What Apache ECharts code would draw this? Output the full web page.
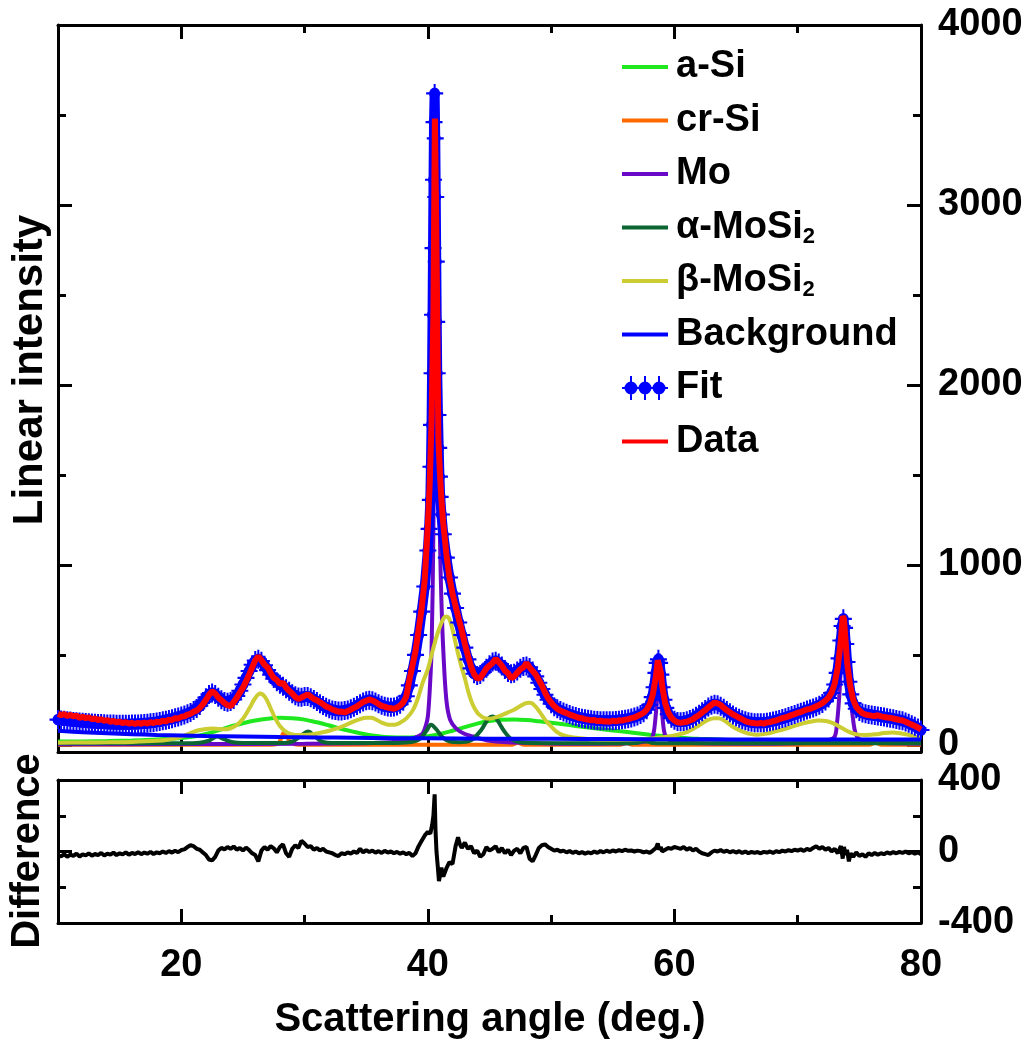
<!DOCTYPE html>
<html><head><meta charset="utf-8">
<script src="https://cdn.jsdelivr.net/npm/echarts@6/dist/echarts.min.js"></script>
<style>html,body{margin:0;padding:0;background:#fff}#c{width:1031px;height:1042px}</style>
</head><body><div id="c"></div>
<script>
// ---------- tick values ----------
const xMajorTicks = [20, 40, 60, 80];
const xMinorTicks = [30, 50, 70];
const yMajorTicks = [0, 1000, 2000, 3000, 4000];
const yMinorTicks = [500, 1500, 2500, 3500];
const diffMajorTicks = [-400, 0, 400];
const diffMinorTicks = [-200, 200];

// ---------- series values [angle, intensity] ----------
const aSi = [[10,18],[12,19],[14,21],[16,24],[18,29],[20,38],[21,46],[22,60],[23,80],[24,102],[25,120],[26,135],[27,145],[28,150],[29,148],[30,140],[31,125],[32,107],[33,88],[34,72],[35,58],[36,48],[37,42],[38,40],[39,42],[40,48],[41,60],[42,78],[43,98],[44,118],[45,132],[46,139],[47,141],[48,138],[49,131],[50,123],[51,114],[52,105],[53,96],[54,88],[55,80],[56,72],[57,64],[58,56],[59,49],[60,42],[61,37],[62,33],[64,28],[66,25],[70,24],[74,25],[77,27],[80,25]];

const crSi = [[10,0],[27,0],[27.8,5],[28.1,35],[28.3,65],[28.5,55],[28.8,20],[29.2,3],[30,0],[46.8,0],[47.3,12],[47.8,0],[55.6,0],[56.1,10],[56.6,0],[75.8,0],[76.3,12],[76.8,0],[80,0]];

const mo = [[10,3],[20,4],[30,6],[35,9],[37,14],[38,22],[38.8,36],[39.3,50],[39.6,65],[39.85,110],[40,157],[40.15,300],[40.3,528],[40.45,1200],[40.55,2200],[40.65,2900],[40.75,2500],[40.85,1700],[41,1080],[41.1,800],[41.25,528],[41.5,250],[41.8,140],[42.3,90],[43,60],[43.7,46],[45,22],[48,10],[52,6],[55,7],[57,12],[58,25],[58.2,40],[58.35,80],[58.5,177],[58.6,260],[58.75,340],[58.9,260],[59,177],[59.15,80],[59.3,46],[59.6,25],[60,15],[62,8],[66,6],[70,9],[71.5,14],[72.5,25],[73,45],[73.2,130],[73.35,250],[73.5,420],[73.65,560],[73.75,580],[73.85,540],[74,420],[74.2,280],[74.4,190],[74.6,90],[74.8,46],[75.2,25],[76,14],[78,8],[80,6]];

const alphaMoSi2 = [[10,8],[20,9],[21.5,12],[22.3,25],[22.9,46],[23.5,30],[24.2,14],[25,10],[28,10],[29,18],[29.7,50],[30.3,74],[30.8,50],[31.4,18],[32.5,10],[37,10],[38.5,14],[39.3,30],[39.9,80],[40.25,111],[40.7,85],[41.2,40],[41.8,18],[42.5,14],[43.5,25],[44.3,80],[44.9,145],[45.25,157],[45.6,140],[46.2,75],[46.8,30],[47.5,14],[49,10],[56,8],[57,12],[57.6,20],[58.1,12],[59,8],[80,8]];

const betaMoSi2 = [[10,12],[12,13],[14,14],[16,16],[18,22],[19,30],[20,45],[20.5,58],[21,72],[21.5,82],[22,88],[22.5,90],[23,88],[23.5,86],[24,92],[24.5,110],[25,145],[25.5,200],[26,260],[26.4,285],[26.8,265],[27.2,210],[27.6,150],[28,105],[28.5,72],[29,58],[29.5,54],[30,55],[30.5,58],[31,63],[31.5,70],[32,78],[32.5,88],[33,100],[33.5,115],[34,130],[34.5,143],[35,150],[35.4,150],[35.8,140],[36.3,122],[36.8,112],[37.3,112],[37.8,125],[38.3,150],[38.8,194],[39.2,260],[39.6,350],[40,420],[40.3,500],[40.7,600],[41,660],[41.3,705],[41.5,713],[41.8,690],[42.1,610],[42.4,520],[42.7,440],[43,370],[43.3,290],[43.6,230],[43.9,190],[44.2,165],[44.6,148],[45,145],[45.5,152],[46,165],[46.5,180],[47,195],[47.5,215],[48,232],[48.3,233],[48.7,215],[49.1,180],[49.5,140],[49.9,110],[50.4,75],[51,52],[51.8,40],[53,32],[54.5,30],[56,30],[57,31],[58,34],[59,42],[60,52],[61,70],[61.8,100],[62.5,130],[63.2,148],[63.6,148],[64.2,128],[64.7,102],[65.3,80],[66,62],[66.7,56],[67.5,62],[68.2,75],[68.8,85],[69.5,100],[70.2,115],[71,128],[71.7,135],[72.3,132],[72.8,122],[73.3,105],[73.8,85],[74.3,68],[74.8,58],[75.5,55],[76.3,58],[77,65],[77.7,68],[78.3,64],[79,55],[79.5,45],[80,35]];

const background = [[10,78],[12,70],[14,64],[16,59],[18,55],[20,52],[22,49],[25,46],[28,43],[31,41],[34,39],[37,37],[40,36],[45,34],[50,33],[55,32],[60,31],[65,30],[70,30],[75,29],[80,29]];

const fitPts = [[10,140],[10.25,138],[10.5,136],[10.75,134],[11,132],[11.25,130],[11.5,128],[11.75,127],[12,125],[12.25,124],[12.5,122],[12.75,121],[13,120],[13.25,119],[13.5,118],[13.75,117],[14,116],[14.25,115],[14.5,115],[14.75,114],[15,114],[15.25,114],[15.5,114],[15.75,114],[16,115],[16.25,115],[16.5,116],[16.75,117],[17,119],[17.25,120],[17.5,122],[17.75,124],[18,127],[18.25,130],[18.5,133],[18.75,137],[19,141],[19.25,145],[19.5,150],[19.75,155],[20,160],[20.25,166],[20.5,172],[20.75,180],[21,190],[21.25,202],[21.5,218],[21.75,240],[22,262],[22.25,280],[22.5,288],[22.75,280],[23,264],[23.25,250],[23.5,240],[23.75,236],[24,240],[24.25,252],[24.5,272],[24.75,300],[25,335],[25.25,372],[25.5,410],[25.75,445],[26,468],[26.25,475],[26.5,465],[26.75,442],[27,415],[27.25,390],[27.5,368],[27.75,350],[28,336],[28.25,325],[28.5,312],[28.75,298],[29,284],[29.25,272],[29.5,265],[29.75,264],[30,268],[30.25,268],[30.5,262],[30.75,252],[31,240],[31.25,228],[31.5,218],[31.75,208],[32,200],[32.25,194],[32.5,190],[32.75,188],[33,188],[33.25,190],[33.5,194],[33.75,200],[34,208],[34.25,218],[34.5,228],[34.75,238],[35,245],[35.25,248],[35.5,245],[35.75,238],[36,228],[36.25,220],[36.5,214],[36.75,210],[37,208],[37.25,210],[37.5,215],[37.75,225],[38,242],[38.25,270],[38.5,330],[38.75,410],[39,500],[39.25,610],[39.5,740],[39.75,880],[40,1080],[40.1,1200],[40.2,1361],[40.25,1545],[40.3,1778],[40.34,2065],[40.38,2390],[40.42,2760],[40.46,3140],[40.5,3460],[40.55,3620],[40.6,3370],[40.64,3044],[40.68,2685],[40.72,2350],[40.76,2065],[40.82,1833],[40.88,1650],[40.94,1490],[41,1378],[41.1,1280],[41.25,1170],[41.5,1040],[41.75,930],[42,840],[42.25,760],[42.5,680],[42.75,610],[43,540],[43.25,475],[43.5,425],[43.75,395],[44,385],[44.25,390],[44.5,405],[44.75,425],[45,445],[45.25,460],[45.5,465],[45.75,455],[46,438],[46.25,418],[46.5,402],[46.75,395],[47,398],[47.25,410],[47.5,425],[47.75,435],[48,438],[48.25,430],[48.5,410],[48.75,380],[49,345],[49.25,310],[49.5,278],[49.75,250],[50,228],[50.25,212],[50.5,200],[50.75,190],[51,182],[51.25,175],[51.5,168],[51.75,162],[52,157],[52.25,152],[52.5,148],[52.75,145],[53,142],[53.25,139],[53.5,137],[53.75,135],[54,134],[54.25,133],[54.5,133],[54.75,133],[55,134],[55.25,135],[55.5,137],[55.75,139],[56,142],[56.25,145],[56.5,149],[56.75,154],[57,160],[57.25,168],[57.5,178],[57.75,195],[58,222],[58.2,265],[58.35,320],[58.5,400],[58.6,455],[58.7,475],[58.8,455],[58.9,390],[59,320],[59.15,250],[59.3,205],[59.5,170],[59.75,148],[60,136],[60.25,130],[60.5,128],[60.75,130],[61,134],[61.25,140],[61.5,148],[61.75,158],[62,170],[62.25,183],[62.5,196],[62.75,210],[63,220],[63.25,225],[63.5,222],[63.75,214],[64,203],[64.25,190],[64.5,178],[64.75,166],[65,156],[65.25,147],[65.5,139],[65.75,133],[66,128],[66.25,125],[66.5,123],[66.75,122],[67,122],[67.25,123],[67.5,125],[67.75,128],[68,132],[68.25,136],[68.5,141],[68.75,146],[69,151],[69.25,157],[69.5,163],[69.75,169],[70,175],[70.25,181],[70.5,187],[70.75,193],[71,199],[71.25,205],[71.5,212],[71.75,220],[72,230],[72.25,243],[72.5,260],[72.75,288],[73,335],[73.2,400],[73.35,480],[73.5,580],[73.6,660],[73.7,700],[73.8,650],[73.9,560],[74,460],[74.15,350],[74.3,280],[74.5,230],[74.75,200],[75,185],[75.25,177],[75.5,172],[75.75,168],[76,165],[76.25,163],[76.5,160],[76.75,157],[77,154],[77.25,151],[77.5,148],[77.75,145],[78,141],[78.25,137],[78.5,133],[78.75,127],[79,120],[79.25,112],[79.5,103],[79.75,93],[80,82]];

const dataPts = [[10,172],[10.25,165],[10.5,170],[10.75,160],[11,166],[11.25,158],[11.5,162],[11.75,150],[12,156],[12.25,148],[12.5,152],[12.75,142],[13,146],[13.25,138],[13.5,142],[13.75,134],[14,137],[14.25,128],[14.5,133],[14.75,124],[15,129],[15.25,120],[15.5,126],[15.75,118],[16,123],[16.25,116],[16.5,122],[16.75,117],[17,124],[17.25,118],[17.5,126],[17.75,121],[18,128],[18.25,125],[18.5,134],[18.75,130],[19,140],[19.25,138],[19.5,148],[19.75,146],[20,156],[20.25,158],[20.5,168],[20.75,172],[21,184],[21.25,190],[21.5,205],[21.75,225],[22,250],[22.25,278],[22.5,298],[22.75,285],[23,262],[23.25,248],[23.5,232],[23.75,220],[24,215],[24.25,238],[24.5,262],[24.75,290],[25,318],[25.25,352],[25.5,390],[25.75,430],[26,470],[26.25,492],[26.5,470],[26.75,445],[27,430],[27.25,398],[27.5,372],[27.75,360],[28,338],[28.25,345],[28.5,318],[28.75,300],[29,285],[29.25,266],[29.5,254],[29.75,262],[30,272],[30.25,280],[30.5,268],[30.75,255],[31,248],[31.25,236],[31.5,225],[31.75,212],[32,206],[32.25,196],[32.5,190],[32.75,184],[33,185],[33.25,180],[33.5,188],[33.75,195],[34,205],[34.25,214],[34.5,226],[34.75,238],[35,245],[35.25,252],[35.5,246],[35.75,238],[36,226],[36.25,216],[36.5,212],[36.75,206],[37,204],[37.25,200],[37.5,207],[37.75,218],[38,236],[38.25,268],[38.5,360],[38.75,440],[39,520],[39.25,640],[39.5,760],[39.75,920],[40,1220],[40.15,1450],[40.3,1800],[40.45,2400],[40.57,3480],[40.68,2900],[40.78,2250],[40.85,1700],[41,1480],[41.1,1360],[41.25,1230],[41.5,1060],[41.75,930],[42,840],[42.25,770],[42.5,700],[42.75,635],[43,560],[43.25,495],[43.5,435],[43.75,392],[44,368],[44.25,372],[44.5,398],[44.75,425],[45,440],[45.25,455],[45.5,478],[45.75,460],[46,440],[46.25,412],[46.5,398],[46.75,370],[47,380],[47.25,400],[47.5,420],[47.75,430],[48,455],[48.25,430],[48.5,410],[48.75,390],[49,360],[49.25,330],[49.5,290],[49.75,258],[50,235],[50.25,215],[50.5,200],[50.75,190],[51,182],[51.25,176],[51.5,168],[51.75,162],[52,156],[52.25,150],[52.5,148],[52.75,142],[53,140],[53.25,136],[53.5,138],[53.75,132],[54,134],[54.25,130],[54.5,131],[54.75,128],[55,134],[55.25,130],[55.5,136],[55.75,135],[56,140],[56.25,142],[56.5,148],[56.75,152],[57,160],[57.25,168],[57.5,178],[57.75,195],[58,225],[58.25,280],[58.5,380],[58.65,470],[58.75,478],[58.9,400],[59,330],[59.25,230],[59.5,180],[59.75,150],[60,135],[60.25,125],[60.5,122],[60.75,125],[61,128],[61.25,135],[61.5,142],[61.75,155],[62,165],[62.25,180],[62.5,192],[62.75,208],[63,222],[63.25,235],[63.5,230],[63.75,222],[64,205],[64.25,192],[64.5,180],[64.75,168],[65,160],[65.25,150],[65.5,142],[65.75,132],[66,126],[66.25,122],[66.5,120],[66.75,118],[67,122],[67.25,118],[67.5,124],[67.75,126],[68,132],[68.25,135],[68.5,142],[68.75,148],[69,152],[69.25,158],[69.5,165],[69.75,170],[70,178],[70.25,182],[70.5,190],[70.75,196],[71,200],[71.25,206],[71.5,214],[71.75,222],[72,232],[72.25,245],[72.5,262],[72.75,290],[73,340],[73.25,430],[73.5,580],[73.65,715],[73.75,700],[73.9,560],[74,460],[74.25,330],[74.5,250],[74.75,210],[75,190],[75.25,175],[75.5,168],[75.75,165],[76,162],[76.25,160],[76.5,164],[76.75,158],[77,155],[77.25,152],[77.5,150],[77.75,146],[78,142],[78.25,138],[78.5,135],[78.75,128],[79,120],[79.25,112],[79.5,105],[79.75,95],[80,85]];

const difference = [[10,-20],[10.25,-28],[10.5,-15],[10.75,-30],[11,-18],[11.25,-25],[11.5,-12],[11.75,-28],[12,-16],[12.25,-22],[12.5,-10],[12.75,-24],[13,-14],[13.25,-20],[13.5,-8],[13.75,-22],[14,-12],[14.25,-18],[14.5,-6],[14.75,-20],[15,-10],[15.25,-16],[15.5,-5],[15.75,-18],[16,-8],[16.25,-14],[16.5,-4],[16.75,-15],[17,-6],[17.25,-12],[17.5,-2],[17.75,-14],[18,-5],[18.25,-10],[18.5,0],[18.75,-8],[19,2],[19.25,-6],[19.5,4],[19.75,-4],[20,8],[20.25,12],[20.5,25],[20.75,35],[21,30],[21.25,15],[21.5,10],[21.75,-5],[22,-20],[22.25,-45],[22.5,-50],[22.75,-30],[23,5],[23.25,20],[23.5,12],[23.75,25],[24,15],[24.25,28],[24.5,10],[24.75,20],[25,5],[25.25,22],[25.5,8],[25.75,-10],[26,-20],[26.25,-55],[26.5,5],[26.75,25],[27,10],[27.25,30],[27.5,18],[27.75,-5],[28,25],[28.25,40],[28.5,-10],[28.75,-30],[29,15],[29.25,35],[29.5,20],[29.75,60],[30,45],[30.25,25],[30.5,30],[30.75,10],[31,20],[31.25,5],[31.5,15],[31.75,0],[32,-5],[32.25,-10],[32.5,-20],[32.75,-25],[33,-10],[33.25,-15],[33.5,-5],[33.75,-12],[34,0],[34.25,-8],[34.5,15],[34.75,-5],[35,8],[35.25,-3],[35.5,5],[35.75,-6],[36,2],[36.25,-8],[36.5,4],[36.75,-6],[37,0],[37.25,-10],[37.5,-2],[37.75,-12],[38,-5],[38.25,-15],[38.5,-8],[38.75,-25],[39,-10],[39.25,30],[39.5,60],[39.75,90],[40,110],[40.2,100],[40.35,150],[40.45,200],[40.55,320],[40.62,120],[40.7,0],[40.8,-80],[40.9,-165],[41,-130],[41.1,-90],[41.25,-140],[41.5,-95],[41.75,-60],[42,-70],[42.25,30],[42.45,80],[42.6,40],[42.75,20],[43,50],[43.25,15],[43.5,30],[43.75,-10],[44,5],[44.25,-30],[44.5,-15],[44.75,25],[45,5],[45.25,15],[45.5,30],[45.75,-5],[46,20],[46.25,-10],[46.5,10],[46.75,-20],[47,5],[47.25,15],[47.5,-10],[47.75,20],[48,25],[48.25,-40],[48.5,-55],[48.75,-20],[49,20],[49.25,35],[49.5,40],[49.75,25],[50,15],[50.25,5],[50.5,10],[50.75,0],[51,5],[51.25,-5],[51.5,3],[51.75,-8],[52,0],[52.25,-10],[52.5,-3],[52.75,-12],[53,-5],[53.25,-10],[53.5,0],[53.75,-8],[54,3],[54.25,-5],[54.5,5],[54.75,-3],[55,6],[55.25,0],[55.5,8],[55.75,2],[56,10],[56.25,4],[56.5,6],[56.75,0],[57,5],[57.25,2],[57.5,-5],[57.75,0],[58,-8],[58.25,5],[58.5,20],[58.65,45],[58.75,10],[58.9,25],[59,0],[59.25,10],[59.5,20],[59.75,15],[60,25],[60.25,20],[60.5,15],[60.75,25],[61,10],[61.25,20],[61.5,5],[61.75,15],[62,0],[62.25,-10],[62.5,-15],[62.75,-20],[63,-5],[63.25,5],[63.5,0],[63.75,8],[64,-2],[64.25,5],[64.5,-5],[64.75,3],[65,-6],[65.25,2],[65.5,-8],[65.75,0],[66,-10],[66.25,-2],[66.5,-8],[66.75,-3],[67,-10],[67.25,-2],[67.5,-6],[67.75,0],[68,-8],[68.25,2],[68.5,-4],[68.75,5],[69,0],[69.25,8],[69.5,2],[69.75,10],[70,5],[70.25,12],[70.5,3],[70.75,15],[71,8],[71.25,20],[71.5,30],[71.75,15],[72,25],[72.25,10],[72.5,20],[72.75,0],[73,15],[73.25,-10],[73.5,30],[73.65,-40],[73.75,25],[73.9,-20],[74,10],[74.15,-55],[74.3,-10],[74.5,-30],[74.75,-5],[75,-25],[75.25,-15],[75.5,-30],[75.75,-10],[76,-20],[76.25,-8],[76.5,-18],[76.75,-10],[77,-15],[77.25,-5],[77.5,-12],[77.75,-3],[78,-10],[78.25,-2],[78.5,-8],[78.75,0],[79,-10],[79.25,-3],[79.5,-12],[79.75,-5],[80,-15]];

// ---------- names & colours ----------
const legendNames = ['a-Si', 'cr-Si', 'Mo', 'α-MoSi2', 'β-MoSi2', 'Background', 'Fit', 'Data'];
const colors = {
  'a-Si': '#1fe81f', 'cr-Si': '#ff6a00', 'Mo': '#6a08c8', 'α-MoSi2': '#0b6634',
  'β-MoSi2': '#cccc33', 'Background': '#0000ff', 'Fit': '#0000ff', 'Data': '#ff0000'
};

const FONT = "'Liberation Sans', Arial, Helvetica, sans-serif";
const AXW = 3;
const MAIN_MIN = -40, MAIN_MAX = 4000;
const plainNum = v => String(v);

function xAx(gridIndex, position, ticks, len, showLine, labels) {
  return {
    type: 'value', gridIndex, position, min: 10, max: 80,
    axisLine: { show: showLine, onZero: false, lineStyle: { color: '#000', width: AXW } },
    axisTick: { show: true, inside: true, length: len, customValues: ticks, lineStyle: { color: '#000', width: AXW } },
    axisLabel: labels ? { show: true, customValues: ticks, formatter: plainNum, margin: 24, color: '#000', fontSize: 38, fontWeight: 'bold', fontFamily: FONT } : { show: false },
    splitLine: { show: false }, minorTick: { show: false }
  };
}
function yAx(gridIndex, position, min, max, ticks, len, showLine, labels) {
  return {
    type: 'value', gridIndex, position, min, max,
    axisLine: { show: showLine, onZero: false, lineStyle: { color: '#000', width: AXW } },
    axisTick: { show: true, inside: true, length: len, customValues: ticks, lineStyle: { color: '#000', width: AXW } },
    axisLabel: labels ? { show: true, customValues: ticks, formatter: plainNum, margin: 17, padding: [7, 0, 0, 0], color: '#000', fontSize: 38, fontWeight: 'bold', fontFamily: FONT } : { show: false },
    splitLine: { show: false }, minorTick: { show: false }
  };
}

const FIT_SYMBOL = 'path://M0 9H17V11H0Z M7.5 1H9.5V19H7.5Z M3 10A5.5 5.5 0 1 1 14 10A5.5 5.5 0 1 1 3 10Z';
const FIT_ICON = 'path://M0 11H46V13H0Z M8 0H10V24H8Z M22 0H24V24H22Z M36 0H38V24H36Z M2.5 12A6.5 6.5 0 1 1 15.5 12A6.5 6.5 0 1 1 2.5 12Z M16.5 12A6.5 6.5 0 1 1 29.5 12A6.5 6.5 0 1 1 16.5 12Z M30.5 12A6.5 6.5 0 1 1 43.5 12A6.5 6.5 0 1 1 30.5 12Z';
const LINE_ICON = 'path://M0 0H46V4H0Z';

function comp(name, pts, width) {
  return {
    name, type: 'line', data: pts, xAxisIndex: 0, yAxisIndex: 0,
    symbol: 'none', smooth: 0.35, silent: true, z: 2,
    lineStyle: { color: colors[name], width: width },
    itemStyle: { color: colors[name] }
  };
}

const chart = echarts.init(document.getElementById('c'), null, { renderer: 'canvas' });
chart.setOption({
  animation: false,
  backgroundColor: '#fff',
  grid: [
    { left: 58, top: 25, width: 863, height: 727 },
    { left: 58, top: 780, width: 863, height: 143 }
  ],
  xAxis: [
    xAx(0, 'bottom', xMajorTicks, 14, true, false),
    xAx(0, 'top', xMajorTicks, 14, true, false),
    xAx(0, 'bottom', xMinorTicks, 8, false, false),
    xAx(0, 'top', xMinorTicks, 8, false, false),
    xAx(1, 'bottom', xMajorTicks, 14, true, true),
    xAx(1, 'top', xMajorTicks, 14, true, false),
    xAx(1, 'bottom', xMinorTicks, 8, false, false),
    xAx(1, 'top', xMinorTicks, 8, false, false)
  ],
  yAxis: [
    yAx(0, 'left', MAIN_MIN, MAIN_MAX, yMajorTicks, 14, true, false),
    yAx(0, 'right', MAIN_MIN, MAIN_MAX, yMajorTicks, 14, true, true),
    yAx(0, 'left', MAIN_MIN, MAIN_MAX, yMinorTicks, 8, false, false),
    yAx(0, 'right', MAIN_MIN, MAIN_MAX, yMinorTicks, 8, false, false),
    yAx(1, 'left', -400, 400, diffMajorTicks, 14, true, false),
    yAx(1, 'right', -400, 400, diffMajorTicks, 14, true, true),
    yAx(1, 'left', -400, 400, diffMinorTicks, 8, false, false),
    yAx(1, 'right', -400, 400, diffMinorTicks, 8, false, false)
  ],
  legend: {
    orient: 'vertical', left: 617, top: 42,
    itemWidth: 46, itemHeight: 24, itemGap: 13.5,
    selectedMode: false,
    itemStyle: { borderWidth: 0 },
    textStyle: {
      color: '#000', fontSize: 38, fontWeight: 'bold', fontFamily: FONT, lineHeight: 40,
      padding: [0, 0, 0, 3],
      rich: {
        b: { color: '#000', fontSize: 38, fontWeight: 'bold', fontFamily: FONT, lineHeight: 40 },
        s: { color: '#000', fontSize: 22, fontWeight: 'bold', fontFamily: FONT, lineHeight: 9, verticalAlign: 'bottom' }
      }
    },
    formatter: function (n) {
      if (n.slice(-1) === '2' && n.indexOf('MoSi') >= 0) return '{b|' + n.slice(0, -1) + '}{s|2}';
      return n;
    },
    data: legendNames.map(n => ({ name: n, icon: n === 'Fit' ? FIT_ICON : LINE_ICON }))
  },
  graphic: [
    { type: 'text', x: 30, y: 370, rotation: Math.PI / 2, silent: true,
      style: { text: 'Linear intensity', fontSize: 42, fontWeight: 'bold', fontFamily: FONT, fill: '#000', align: 'center', verticalAlign: 'middle' } },
    { type: 'text', x: 28, y: 851, rotation: Math.PI / 2, silent: true,
      style: { text: 'Difference', fontSize: 40, fontWeight: 'bold', fontFamily: FONT, fill: '#000', align: 'center', verticalAlign: 'middle' } },
    { type: 'text', x: 490, y: 1020, silent: true,
      style: { text: 'Scattering angle (deg.)', fontSize: 40, fontWeight: 'bold', fontFamily: FONT, fill: '#000', align: 'center', verticalAlign: 'middle' } }
  ],
  series: [
    comp('a-Si', aSi, 4),
    comp('cr-Si', crSi, 4),
    comp('Mo', mo, 4),
    comp('α-MoSi2', alphaMoSi2, 4),
    comp('β-MoSi2', betaMoSi2, 4),
    comp('Background', background, 4),
    {
      name: 'Fit', type: 'line', data: fitPts, xAxisIndex: 0, yAxisIndex: 0,
      symbol: FIT_SYMBOL, symbolSize: [17, 19], showSymbol: true, showAllSymbol: true,
      silent: true, z: 3,
      lineStyle: { color: colors['Fit'], width: 10 },
      itemStyle: { color: colors['Fit'] }
    },
    {
      name: 'Data', type: 'line', data: dataPts, xAxisIndex: 0, yAxisIndex: 0,
      symbol: 'none', silent: true, z: 4,
      lineStyle: { color: colors['Data'], width: 6 },
      itemStyle: { color: colors['Data'] }
    },
    {
      name: 'Difference', type: 'line', data: difference, xAxisIndex: 4, yAxisIndex: 4,
      symbol: 'none', silent: true, z: 4,
      lineStyle: { color: '#000', width: 4 },
      itemStyle: { color: '#000' }
    }
  ]
});
</script></body></html>
